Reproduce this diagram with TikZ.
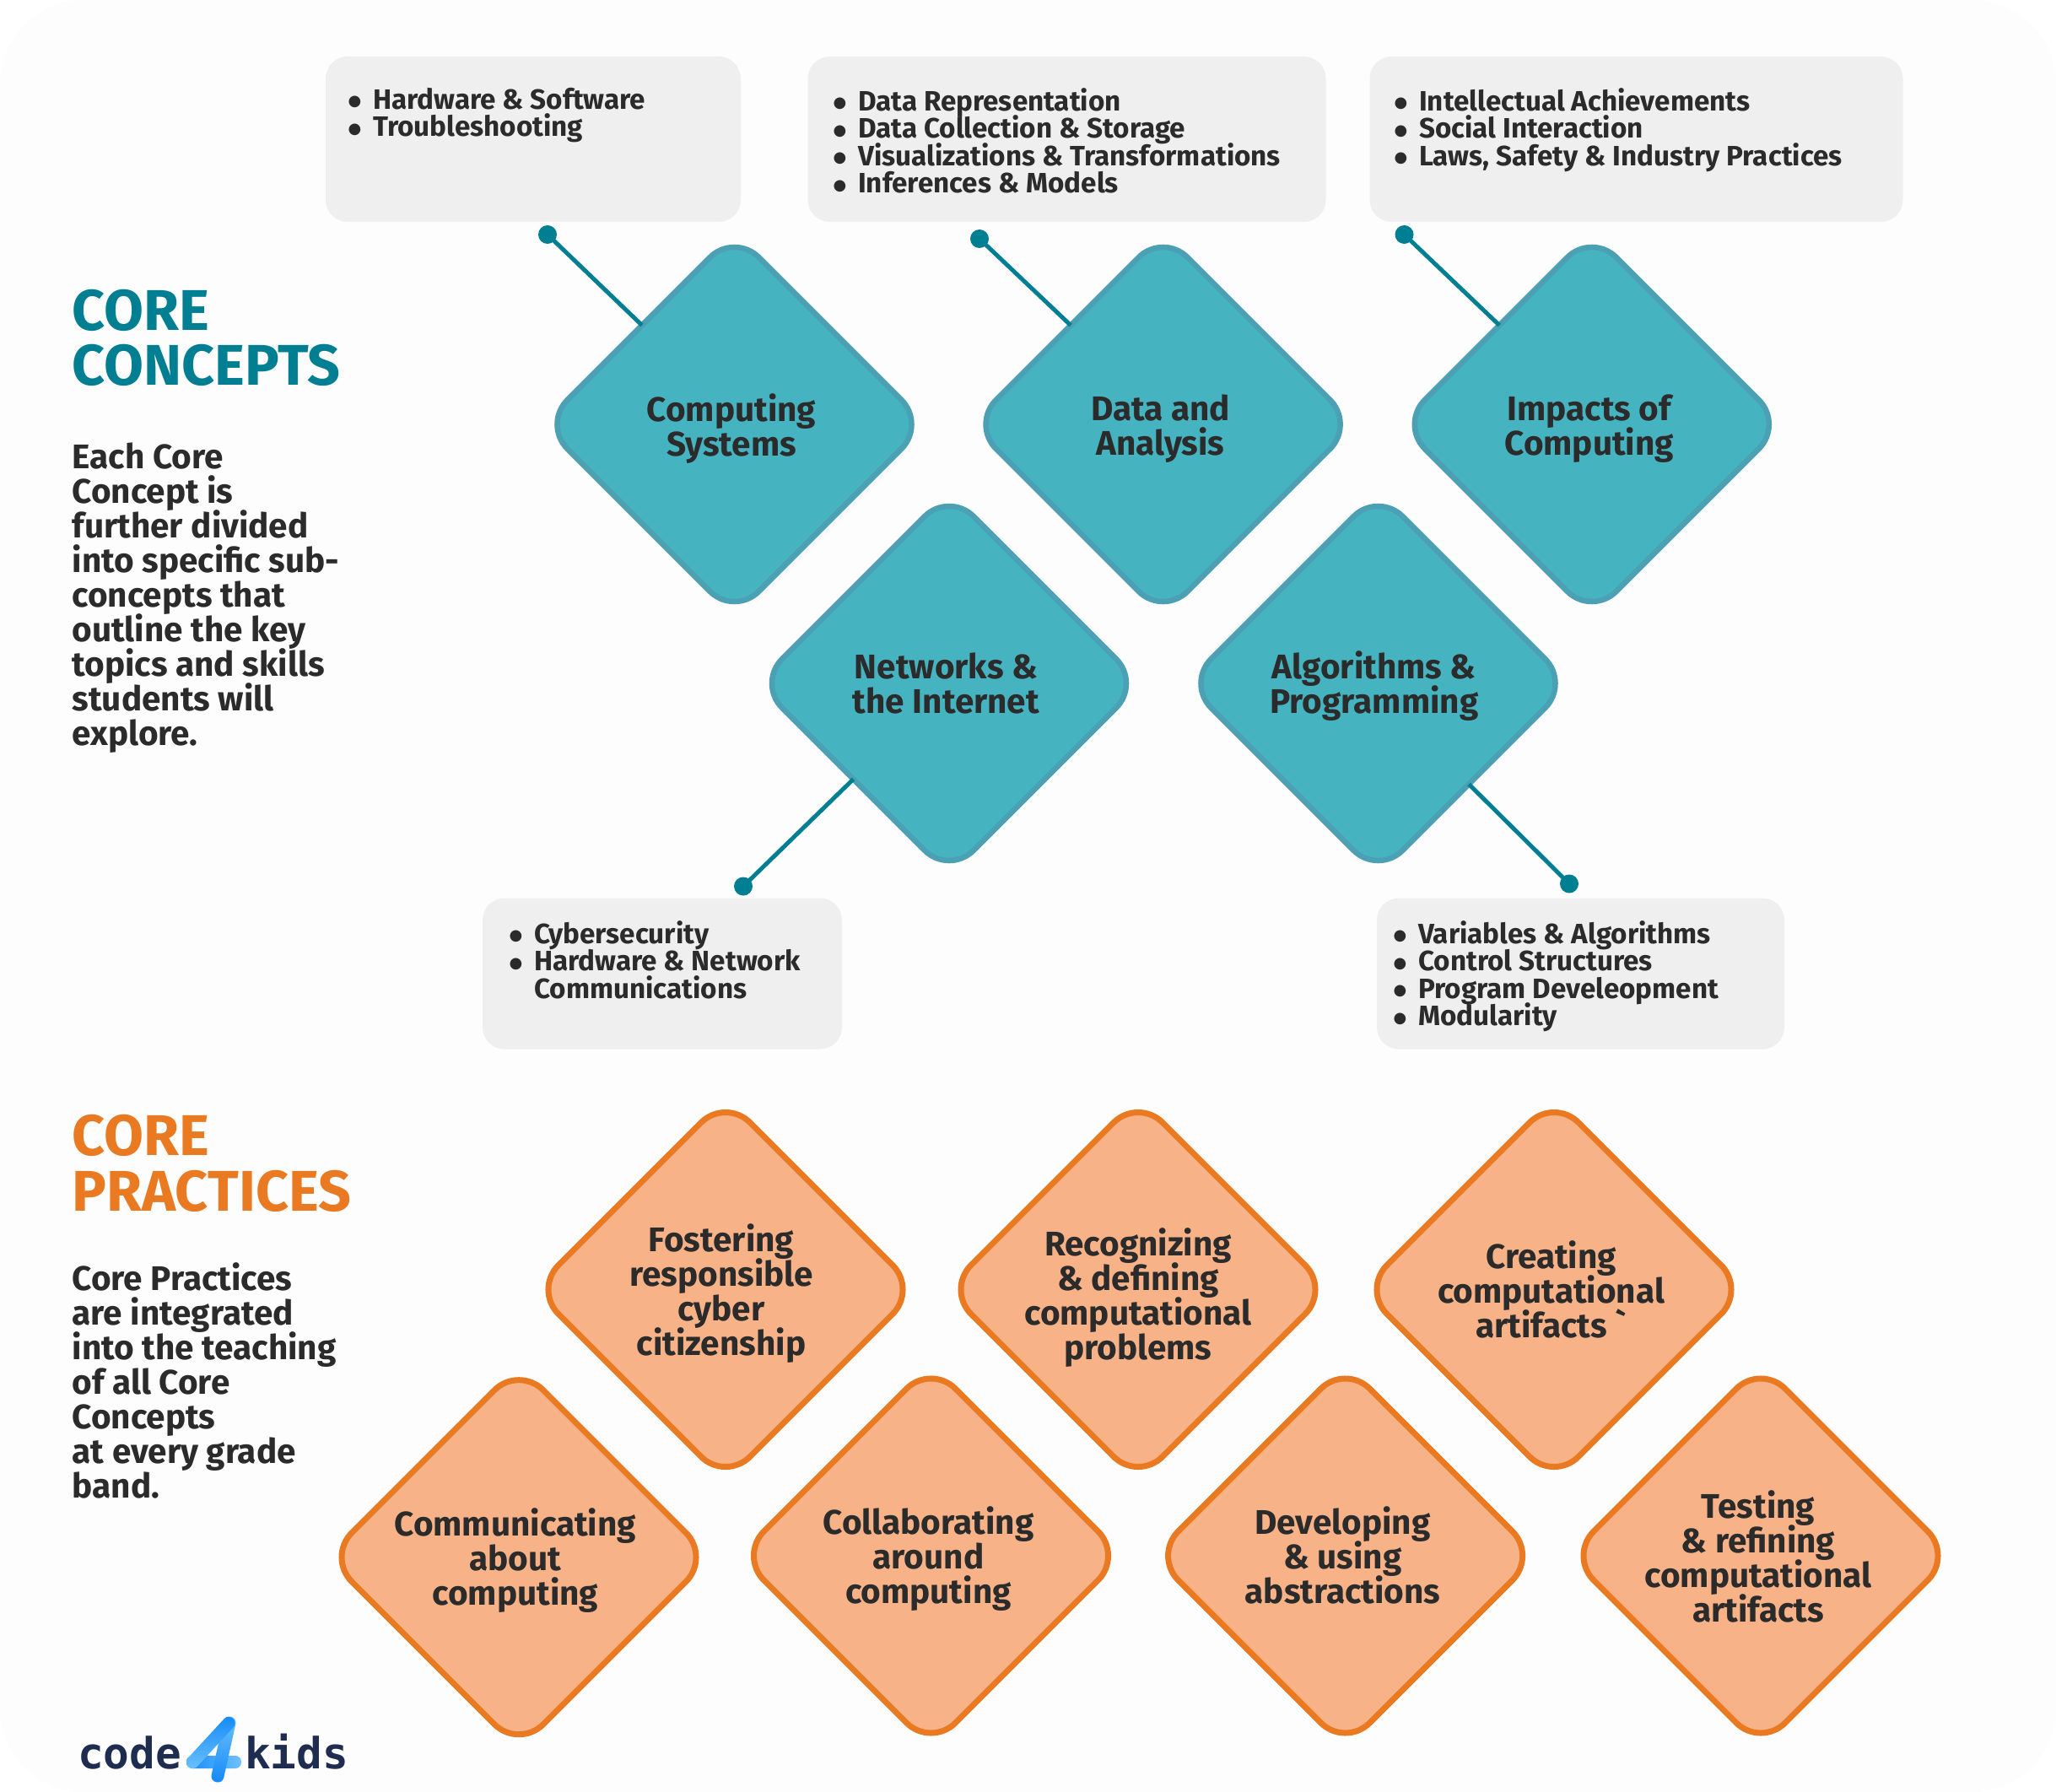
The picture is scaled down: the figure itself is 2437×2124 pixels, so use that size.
\documentclass[tikz,border=0pt]{standalone}
\usepackage{fontspec}
\setmainfont{Fira Sans}[BoldFont=* Bold]
\newfontfamily\gravefont{Fira Sans}[BoldFont=* Bold]
\newfontfamily\logofont{DejaVu Sans Mono}[BoldFont=* Bold]
\newfontfamily\dotfont{DejaVu Sans}
\usetikzlibrary{shapes.geometric}
\definecolor{pagebg}{HTML}{FDFDFD}
\definecolor{boxgrey}{HTML}{EFEFEF}
\definecolor{inkdark}{HTML}{2B2B2B}
\definecolor{tealdark}{HTML}{007F92}
\definecolor{tealfill}{HTML}{46B3C1}
\definecolor{tealedge}{HTML}{4BA1B3}
\definecolor{orangefill}{HTML}{F7B387}
\definecolor{orangeedge}{HTML}{EA7A22}
\definecolor{logonavy}{HTML}{1E2C50}
\definecolor{logoa}{HTML}{1289F9}
\definecolor{logob}{HTML}{6FC2FB}
\tikzset{
  tealdia/.style={draw=tealedge,fill=tealfill,line width=6.5pt,shape=diamond,aspect=1,minimum width=454pt,minimum height=454pt,inner sep=0pt,outer sep=0pt,rounded corners=41pt},
  orangedia/.style={draw=orangeedge,fill=orangefill,line width=7pt,shape=diamond,aspect=1,minimum width=454pt,minimum height=454pt,inner sep=0pt,outer sep=0pt,rounded corners=41pt},
  dialabel/.style={text=inkdark,align=center,inner sep=0pt,font=\fontsize{40.5}{41}\selectfont\bfseries,execute at begin node=\strut,execute at end node=\strut},
  infobox/.style={fill=boxgrey,rounded corners=26pt,inner sep=0pt,outer sep=0pt,anchor=north west},
  infotext/.style={text=inkdark,align=left,inner sep=0pt,anchor=north west,font=\fontsize{33.2}{32.6}\selectfont\bfseries},
  heading/.style={align=left,inner sep=0pt,anchor=north west,font=\fontsize{68}{65.5}\selectfont\bfseries},
  bodytext/.style={text=inkdark,align=left,inner sep=0pt,anchor=north west,font=\fontsize{40.5}{41}\selectfont\bfseries},
  linkline/.style={draw=tealdark,line width=5pt},
  linkdot/.style={circle,fill=tealdark,inner sep=0pt,minimum size=22pt},
  logotext/.style={text=logonavy,inner sep=0pt,anchor=base west,font=\fontsize{51}{51}\logofont\bfseries},
}
\newcommand{\itm}[1]{\makebox[34pt][l]{\hspace*{4.5pt}\smash{\raisebox{3.5pt}{\fontsize{18}{18}\dotfont ●}}}\strut#1}
\newcommand{\itmc}[1]{\makebox[34pt][l]{}\strut#1}
\begin{document}
\lineskiplimit=-200pt
\begin{tikzpicture}[x=1pt,y=-1pt]
\useasboundingbox (0,0) rectangle (2437,2124);
\fill[white] (0,0) rectangle (2437,2124);
\fill[pagebg,rounded corners=100pt] (0,0) rectangle (2437,2124);

% info boxes
\node[infobox,minimum width=492pt,minimum height=196pt] (b1) at (386,67) {};
\node[infobox,minimum width=614pt,minimum height=196pt] (b2) at (957.5,67) {};
\node[infobox,minimum width=632pt,minimum height=196pt] (b3) at (1623.5,67) {};
\node[infobox,minimum width=426pt,minimum height=179pt] (b4) at (572,1064.5) {};
\node[infobox,minimum width=483pt,minimum height=179pt] (b5) at (1632,1064.5) {};

\node[infotext] (t1) at (408,104) {\itm{Hardware \& Software}\\\itm{Troubleshooting}};
\node[infotext] (t2) at (983,104) {\itm{Data Representation}\\\itm{Data Collection \& Storage}\\\itm{Visualizations \& Transformations}\\\itm{Inferences \& Models}};
\node[infotext] (t3) at (1648,104) {\itm{Intellectual Achievements}\\\itm{Social Interaction}\\\itm{Laws, Safety \& Industry Practices}};
\node[infotext] (t4) at (599,1091) {\itm{Cybersecurity}\\\itm{Hardware \& Network}\\\itmc{Communications}};
\node[infotext] (t5) at (1647,1091) {\itm{Variables \& Algorithms}\\\itm{Control Structures}\\\itm{Program Develeopment}\\\itm{Modularity}};

% core concept diamonds
\node[tealdia] (cs) at (870.5,503) {};
\node[tealdia] (da) at (1378.6,503) {};
\node[tealdia] (ic) at (1886.8,503) {};
\node[tealdia] (ni) at (1125,810) {};
\node[tealdia] (ap) at (1633.5,810) {};

% connectors
\node[linkdot] (d1) at (649,278) {};
\node[linkdot] (d2) at (1161,283) {};
\node[linkdot] (d3) at (1664.5,278) {};
\node[linkdot] (d4) at (881,1050.5) {};
\node[linkdot] (d5) at (1860,1047.5) {};
\draw[linkline] (d1.center) -- (cs.133.6);
\draw[linkline] (d2.center) -- (da.133.5);
\draw[linkline] (d3.center) -- (ic.133.9);
\draw[linkline] (d4.center) -- (ni.225);
\draw[linkline] (d5.center) -- (ap.312.3);

\node[dialabel] (csl) at (867,509.5) {Computing\\Systems};
\node[dialabel] (dal) at (1375.5,509.5) {Data and\\Analysis};
\node[dialabel] (icl) at (1883.7,509.5) {Impacts of\\Computing};
\node[dialabel] (nil) at (1121.4,816) {Networks \&\\the Internet};
\node[dialabel] (apl) at (1628.8,815) {Algorithms \&\\Programming};

% core practice diamonds
\node[orangedia] (fr) at (860,1528.5) {};
\node[orangedia] (rd) at (1349,1528.5) {};
\node[orangedia] (cc) at (1842,1528.5) {};
\node[orangedia] (ca) at (615,1845.7) {};
\node[orangedia] (cl) at (1103.5,1844) {};
\node[orangedia] (du) at (1594.6,1844) {};
\node[orangedia] (tr) at (2087,1844) {};

\node[dialabel] (frl) at (855,1535) {Fostering\\responsible\\cyber\\citizenship};
\node[dialabel] (rdl) at (1349,1540) {Recognizing\\\& defining\\computational\\problems};
\node[dialabel] (ccl) at (1838.6,1534) {Creating\\computational\\artifacts {\gravefont\bfseries`}};
\node[dialabel] (cal) at (610.8,1851) {Communicating\\about\\computing};
\node[dialabel] (cll) at (1100.4,1849) {Collaborating\\around\\computing};
\node[dialabel] (dul) at (1591.5,1849) {Developing\\\& using\\abstractions};
\node[dialabel] (trl) at (2084,1851) {Testing\\\& refining\\computational\\artifacts};

% headings and descriptions
\node[heading,text=tealdark] (h1) at (85.5,343) {CORE\\CONCEPTS};
\node[bodytext] (p1) at (85.5,525) {Each Core\\Concept is\\further divided\\into specific sub-\\concepts that\\outline the key\\topics and skills\\students will\\explore.};
\node[heading,text=orangeedge] (h2) at (85.5,1321.5) {CORE\\PRACTICES};
\node[bodytext] (p2) at (85.5,1496) {Core Practices\\are integrated\\into the teaching\\of all Core\\Concepts\\at every grade\\band.};

% logo
\node[logotext] (lc) at (92,2096) {code};
\node[logotext] (lk) at (290,2096) {kids};
\shade[left color=logoa,right color=logob,rounded corners=7pt] (221,2081) rectangle (286,2096);
\shade[top color=logob,bottom color=logoa,rounded corners=7pt] (280.9,2036.3) -- (266.3,2033.1) -- (249.1,2110.7) -- (263.7,2113.9) -- cycle;
\shade[top color=logoa,bottom color=logob,rounded corners=7pt] (281.5,2042) -- (270.5,2032) -- (217.9,2089) -- (228.9,2099) -- cycle;
\end{tikzpicture}
\end{document}
